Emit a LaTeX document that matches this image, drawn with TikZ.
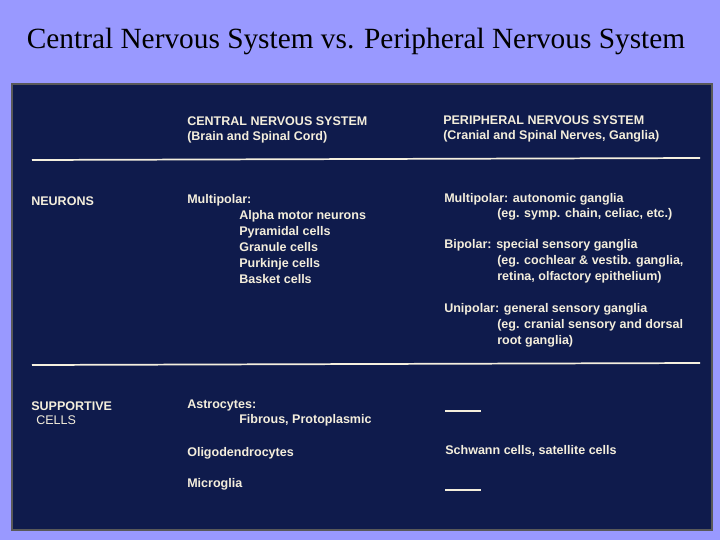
\documentclass[tikz,border=0pt]{standalone}
\usepackage{fontspec}
\setmainfont{Liberation Serif}
\newfontfamily\slidefont{Liberation Sans}
\definecolor{lav}{HTML}{9999FF}
\definecolor{navy}{HTML}{0F1B4C}
\definecolor{cream}{HTML}{F4EEDC}
\begin{document}
\begin{tikzpicture}[x=0.75pt,y=-0.75pt,
  t/.style={anchor=west,inner sep=0pt,text=cream,font=\slidefont\bfseries\fontsize{9.4}{12}\selectfont,align=left},
  rule/.style={draw=cream!90,line width=1.3pt}]
\fill[lav] (0,0) rectangle (720,540);
\useasboundingbox (0,0) rectangle (720,540);
\node[font=\fontsize{22}{24}\selectfont] (title) at (356,41) {Central Nervous System vs. Peripheral Nervous System};
\fill[navy] (12,84) rectangle (712,530);
\draw[gray!70!black,line width=0.8pt] (12,84) rectangle (712,530);
\coordinate (l1a) at (32,160); \coordinate (l1b) at (700,158);
\coordinate (l2a) at (32,365); \coordinate (l2b) at (700,363);
\draw[rule] (l1a) -- (l1b);
\draw[rule] (l2a) -- (l2b);
\node[t] (cns) at (187,121) {CENTRAL NERVOUS SYSTEM};
\node[t] (cns2) at (187,137) {(Brain and Spinal Cord)};
\node[t] (pns) at (443,120) {PERIPHERAL NERVOUS SYSTEM};
\node[t] (pns2) at (443,136) {(Cranial and Spinal Nerves, Ganglia)};
\node[t] (neu) at (31,201) {NEURONS};
\node[t] (mp) at (187,200) {Multipolar:};
\node[t] (mpl) at (239,247) {Alpha motor neurons\\Pyramidal cells\\Granule cells\\Purkinje cells\\Basket cells};
\node[t] (pm) at (444,199) {Multipolar: autonomic ganglia};
\node[t] (pm2) at (497,214) {(eg. symp. chain, celiac, etc.)};
\node[t] (pb) at (444,245) {Bipolar: special sensory ganglia};
\node[t] (pb2) at (497,269) {(eg. cochlear \& vestib. ganglia,\\retina, olfactory epithelium)};
\node[t] (pu) at (444,309) {Unipolar: general sensory ganglia};
\node[t] (pu2) at (497,333) {(eg. cranial sensory and dorsal\\root ganglia)};
\node[t] (sup) at (31,406) {SUPPORTIVE};
\node[anchor=west,inner sep=0pt,text=cream,font=\slidefont\fontsize{9.4}{12}\selectfont] (cells) at (36,420) {CELLS};
\node[t] (ast) at (187,405) {Astrocytes:};
\node[t] (ast2) at (239,420) {Fibrous, Protoplasmic};
\node[t] (oli) at (187,453) {Oligodendrocytes};
\node[t] (mic) at (187,484) {Microglia};
\node[t] (sch) at (445,451) {Schwann cells, satellite cells};
\coordinate (d1a) at (445,411); \coordinate (d1b) at (481,411);
\coordinate (d2a) at (445,490); \coordinate (d2b) at (481,490);
\draw[cream,line width=1pt] (d1a) -- (d1b);
\draw[cream,line width=1pt] (d2a) -- (d2b);
\end{tikzpicture}
\end{document}
